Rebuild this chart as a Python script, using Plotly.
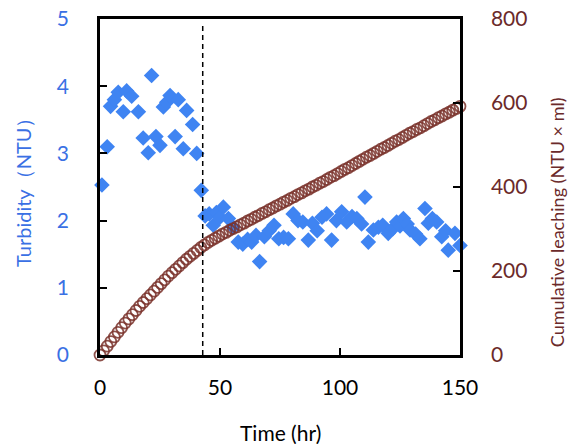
import plotly.graph_objects as go

# ---- data ----
turb_time = [0.8, 3.0, 4.4, 6.0, 7.6, 9.7, 11.1, 13.2, 16.0, 18.0, 20.1, 21.5, 23.3, 25.0,
             26.4, 27.8, 29.2, 31.3, 32.6, 34.7, 36.1, 38.6, 40.3, 42.2,
             43.8, 45.5, 47.2, 48.5, 50.0, 51.4, 53.5, 55.5, 57.6, 59.5, 61.5, 63.2,
             65.0, 66.5, 68.5, 70.5, 72.5, 74.5, 76.5, 78.5, 80.5, 82.5, 84.5, 86.8,
             88.5, 90.5, 92.5, 94.4, 96.5, 98.5, 100.7, 102.8, 105.0, 107.0, 109.0,
             110.4, 111.8, 113.9, 116.0, 117.8, 120.1, 122.0, 123.6, 125.0, 126.4,
             128.0, 129.2, 131.5, 133.3, 135.4, 136.8, 138.5, 140.3, 142.4, 144.0,
             145.1, 147.9, 150.0]
turbidity = [2.53, 3.10, 3.70, 3.80, 3.91, 3.62, 3.93, 3.85, 3.62, 3.23, 3.01, 4.16, 3.25, 3.12,
             3.69, 3.76, 3.86, 3.25, 3.80, 3.07, 3.64, 3.43, 3.00, 2.45,
             2.07, 2.10, 1.93, 2.12, 2.05, 2.20, 2.03, 1.90, 1.68, 1.65, 1.72, 1.68,
             1.78, 1.39, 1.76, 1.85, 1.93, 1.73, 1.75, 1.73, 2.10, 2.00, 1.98, 1.71,
             1.96, 1.85, 2.05, 2.10, 1.71, 2.00, 2.13, 1.98, 2.06, 2.03, 1.95,
             2.35, 1.68, 1.86, 1.90, 1.93, 1.81, 1.88, 1.98, 1.92, 2.03,
             1.95, 1.86, 1.80, 1.73, 2.18, 1.96, 2.03, 1.98, 1.76, 1.85,
             1.56, 1.81, 1.63]

cum_time = [0, 1.5, 3, 4.5, 6, 7.5, 9, 10.5, 12, 13.5, 15, 16.5, 18, 19.5, 21, 22.5, 24, 25.5,
            27, 28.5, 30, 31.5, 33, 34.5, 36, 37.5, 39, 40.5, 42, 43.5, 45, 46.5, 48, 49.5,
            51, 52.5, 54, 55.5, 57, 58.5, 60, 61.5, 63, 64.5, 66, 67.5, 69, 70.5, 72, 73.5,
            75, 76.5, 78, 79.5, 81, 82.5, 84, 85.5, 87, 88.5, 90, 91.5, 93, 94.5, 96, 97.5,
            99, 100.5, 102, 103.5, 105, 106.5, 108, 109.5, 111, 112.5, 114, 115.5, 117,
            118.5, 120, 121.5, 123, 124.5, 126, 127.5, 129, 130.5, 132, 133.5, 135, 136.5,
            138, 139.5, 141, 142.5, 144, 145.5, 147, 148.5, 150]
cum_leach = [0, 10, 21, 32, 43, 54, 65, 76, 86, 96, 106, 116, 125, 134, 143, 152, 161, 170,
             179, 188, 196, 204, 212, 220, 228, 235, 242, 249, 256, 262, 268, 273, 278, 283,
             288, 292, 297, 301, 305, 310, 314, 319, 323, 328, 332, 337, 341, 346, 350, 355,
             359, 364, 368, 373, 377, 382, 386, 391, 395, 400, 404, 409, 413, 418, 423, 427,
             432, 437, 442, 446, 451, 456, 461, 466, 471, 475, 480, 485, 490,
             494, 499, 504, 509, 513, 518, 523, 528, 532, 537, 541, 546, 551,
             556, 560, 565, 569, 574, 578, 583, 587, 592]

x_ticks = [0, 50, 100, 150]
y1_ticks = [0, 1, 2, 3, 4, 5]
y2_ticks = [0, 200, 400, 600, 800]
divider_time = 42.8

BLUE = "#3F84F2"
BLUE_TEXT = "#3A70E4"
BROWN_TEXT = "#6B2A2A"
FONT = "Lato, 'Open Sans', sans-serif"

fig = go.Figure()
fig.add_trace(go.Scatter(
    x=turb_time, y=turbidity, mode="markers", yaxis="y",
    marker=dict(symbol="diamond", size=12, color=BLUE, line=dict(width=0)),
    cliponaxis=False, showlegend=False))
fig.add_trace(go.Scatter(
    x=cum_time, y=cum_leach, mode="markers", yaxis="y2",
    marker=dict(symbol="circle-open", size=11, color="rgba(122,51,44,0.85)",
                line=dict(width=1.8, color="rgba(122,51,44,0.85)")),
    cliponaxis=False, showlegend=False))

fig.add_shape(type="line", xref="x", yref="paper", x0=divider_time, x1=divider_time,
              y0=0, y1=0.985, line=dict(color="black", width=1.5, dash="5px,4px"))

axis_common = dict(showgrid=False, zeroline=False, showline=True, linecolor="black",
                   linewidth=2.5, ticks="inside", ticklen=7, tickwidth=2, tickcolor="black",
                   automargin=False, ticklabeloverflow="allow")

fig.update_layout(
    width=568, height=444,
    margin=dict(l=100, r=108, t=19, b=89, autoexpand=False),
    paper_bgcolor="white", plot_bgcolor="white",
    font=dict(family=FONT, size=21, color="black"),
    xaxis=dict(range=[0, 150], tickvals=x_ticks, mirror=True,
               ticklabelstandoff=12, tickfont=dict(size=21, color="black"), **axis_common),
    yaxis=dict(range=[0, 5], tickvals=y1_ticks, ticklabelstandoff=24,
               tickfont=dict(size=21, color=BLUE_TEXT), **axis_common),
    yaxis2=dict(range=[0, 800], tickvals=y2_ticks, overlaying="y", side="right",
                ticklabelstandoff=24, tickfont=dict(size=21, color=BROWN_TEXT), **axis_common),
)

fig.add_annotation(text="Time (hr)", xref="paper", yref="paper", x=0.5, y=-0.232,
                   showarrow=False, font=dict(size=21, color="black"),
                   xanchor="center", yanchor="middle")
fig.add_annotation(text="Turbidity\uff08NTU\uff09", xref="paper", yref="paper", x=-0.214, y=0.5,
                   textangle=-90, showarrow=False, font=dict(size=20, color=BLUE_TEXT),
                   xanchor="center", yanchor="middle")
fig.add_annotation(text="Cumulative leaching (NTU \u00d7 ml)", xref="paper", yref="paper",
                   x=1.27, y=0.396, textangle=-90, showarrow=False,
                   font=dict(size=18, color=BROWN_TEXT), xanchor="center", yanchor="middle")

# remove the default page margin so the figure fills the window exactly
fig.write_html("out.html", config={"displayModeBar": False},
               post_script="document.body.style.margin='0';document.body.style.overflow='hidden';")
